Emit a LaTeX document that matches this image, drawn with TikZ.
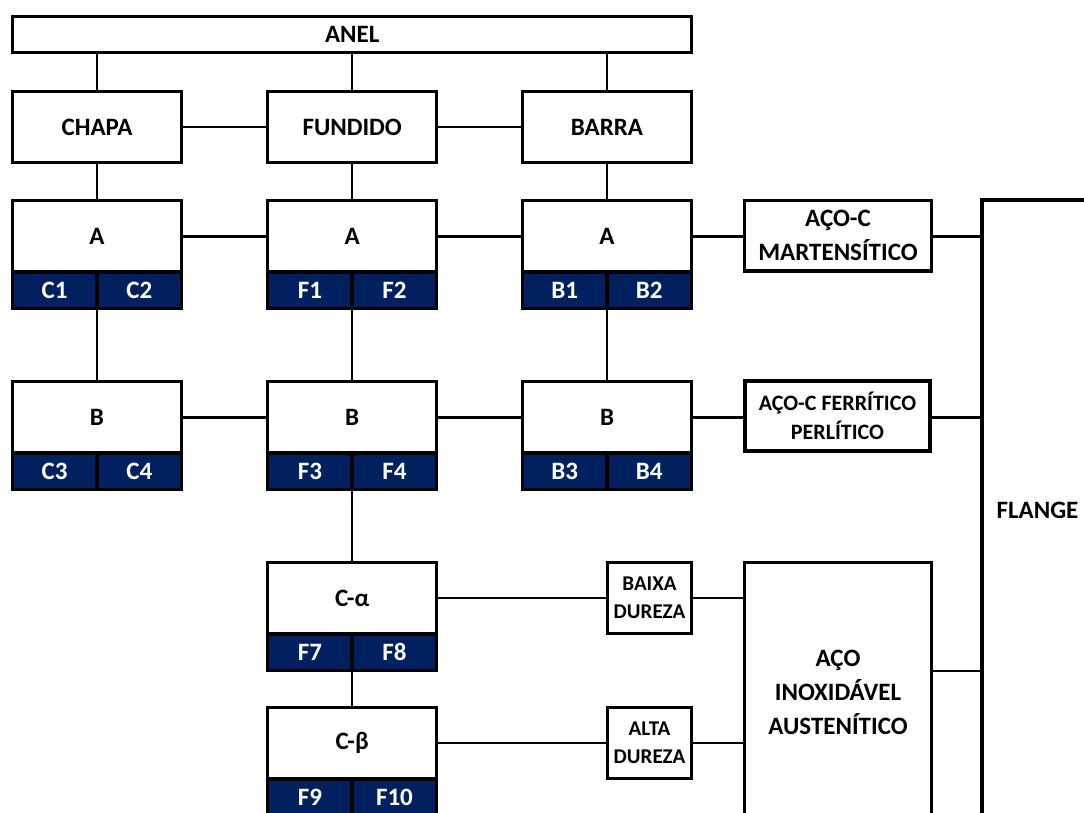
\documentclass[tikz,border=0pt]{standalone}
\usepackage{fontspec}
\setmainfont{Carlito}
\definecolor{navy}{HTML}{002060}
\newcommand\mkcombo[6]{%
  \node[wbox] (#1) at (#2,#3) {#4};
  \node[band, anchor=north east] (#1l) at (#1.south) {#5};
  \node[band, anchor=north west] (#1r) at (#1.south) {#6};
  \draw[line width=3.3pt] (#1.north west) rectangle (#1r.south east);
  \draw[line width=3.6pt] (#1.south west) -- (#1.south east);
  \draw[line width=3.6pt] (#1l.north east) -- (#1l.south east);
}
\tikzset{
  lbl/.style={font=\fontsize{25}{34}\selectfont\bfseries, align=center, inner sep=0pt, outer sep=0pt},
  frame/.style={lbl, draw, line width=3.3pt},
  wbox/.style={frame, minimum width=169.2pt, minimum height=71.5pt},
  topbox/.style={frame, minimum width=169.2pt, minimum height=71pt},
  band/.style={lbl, fill=navy, text=white, minimum width=84.6pt, minimum height=36.5pt},
  smallbox/.style={frame, minimum width=84.4pt, minimum height=70.6pt, font=\fontsize{21}{28.5}\selectfont\bfseries},
  link/.style={line width=2.4pt},
}
\begin{document}
\begin{tikzpicture}[x=1pt, y=-1pt]
\useasboundingbox (0,0) rectangle (1084,812);
\clip (0,0) rectangle (1084,812);
% top
\node[frame, minimum width=679pt, minimum height=35.6pt] (anel) at (352.2,34.5) {ANEL};
\node[topbox] (chapa) at (97,127.2) {CHAPA};
\node[topbox] (fundido) at (352.2,127.2) {FUNDIDO};
\node[topbox] (barra) at (607,127.2) {BARRA};
% combos
\mkcombo{cA}{97}{236.4}{A}{C1}{C2}
\mkcombo{fA}{352.2}{236.4}{A}{F1}{F2}
\mkcombo{bA}{607}{236.4}{A}{B1}{B2}
\mkcombo{cB}{97}{417.5}{B}{C3}{C4}
\mkcombo{fB}{352.2}{417.5}{B}{F3}{F4}
\mkcombo{bB}{607}{417.5}{B}{B3}{B4}
\mkcombo{ca}{352.2}{598}{C-α}{F7}{F8}
\mkcombo{cb}{352.2}{743}{C-β}{F9}{F10}
% right side
\node[frame, minimum width=187.4pt, minimum height=70.3pt] (mart) at (838,235.8) {AÇO-C\\MARTENSÍTICO};
\node[frame, minimum width=185pt, minimum height=70pt, font=\fontsize{22}{28.5}\selectfont\bfseries] (ferr) at (837.5,416) {AÇO-C FERRÍTICO\\PERLÍTICO};
\node[smallbox] (baixa) at (649.5,598) {BAIXA\\DUREZA};
\node[smallbox] (alta) at (649.5,743) {ALTA\\DUREZA};
\node[frame, minimum width=187.4pt, minimum height=258.6pt] (inox) at (838,692) {AÇO\\INOXIDÁVEL\\AUSTENÍTICO};
\node[frame, minimum width=111pt, minimum height=620pt] (flange) at (1037.5,510) {FLANGE};
\coordinate (inoxc) at ([yshift=21pt]inox.east);
% connectors
\draw[link] (anel.south -| chapa.north) -- (chapa.north);
\draw[link] (anel.south -| fundido.north) -- (fundido.north);
\draw[link] (anel.south -| barra.north) -- (barra.north);
\draw[link] (chapa.east) -- (fundido.west);
\draw[link] (fundido.east) -- (barra.west);
\draw[link] (chapa.south) -- (cA.north);
\draw[link] (fundido.south) -- (fA.north);
\draw[link] (barra.south) -- (bA.north);
\draw[link] (cA.east) -- (fA.west);
\draw[link] (fA.east) -- (bA.west);
\draw[link] (bA.east) -- (bA.east -| mart.west);
\draw[link] (mart.east |- bA.east) -- (bA.east -| flange.west);
\draw[link] (cAl.south east) -- (cB.north);
\draw[link] (fAl.south east) -- (fB.north);
\draw[link] (bAl.south east) -- (bB.north);
\draw[link] (cB.east) -- (fB.west);
\draw[link] (fB.east) -- (bB.west);
\draw[link] (bB.east) -- (bB.east -| ferr.west);
\draw[link] (ferr.east |- bB.east) -- (bB.east -| flange.west);
\draw[link] (fBl.south east) -- (ca.north);
\draw[link] (cal.south east) -- (cb.north);
\draw[link] (ca.east) -- (ca.east -| baixa.west);
\draw[link] (baixa.east |- ca.east) -- (ca.east -| inox.west);
\draw[link] (cb.east) -- (cb.east -| alta.west);
\draw[link] (alta.east |- cb.east) -- (cb.east -| inox.west);
\draw[link] (inoxc) -- (inoxc -| flange.west);
\end{tikzpicture}
\end{document}
